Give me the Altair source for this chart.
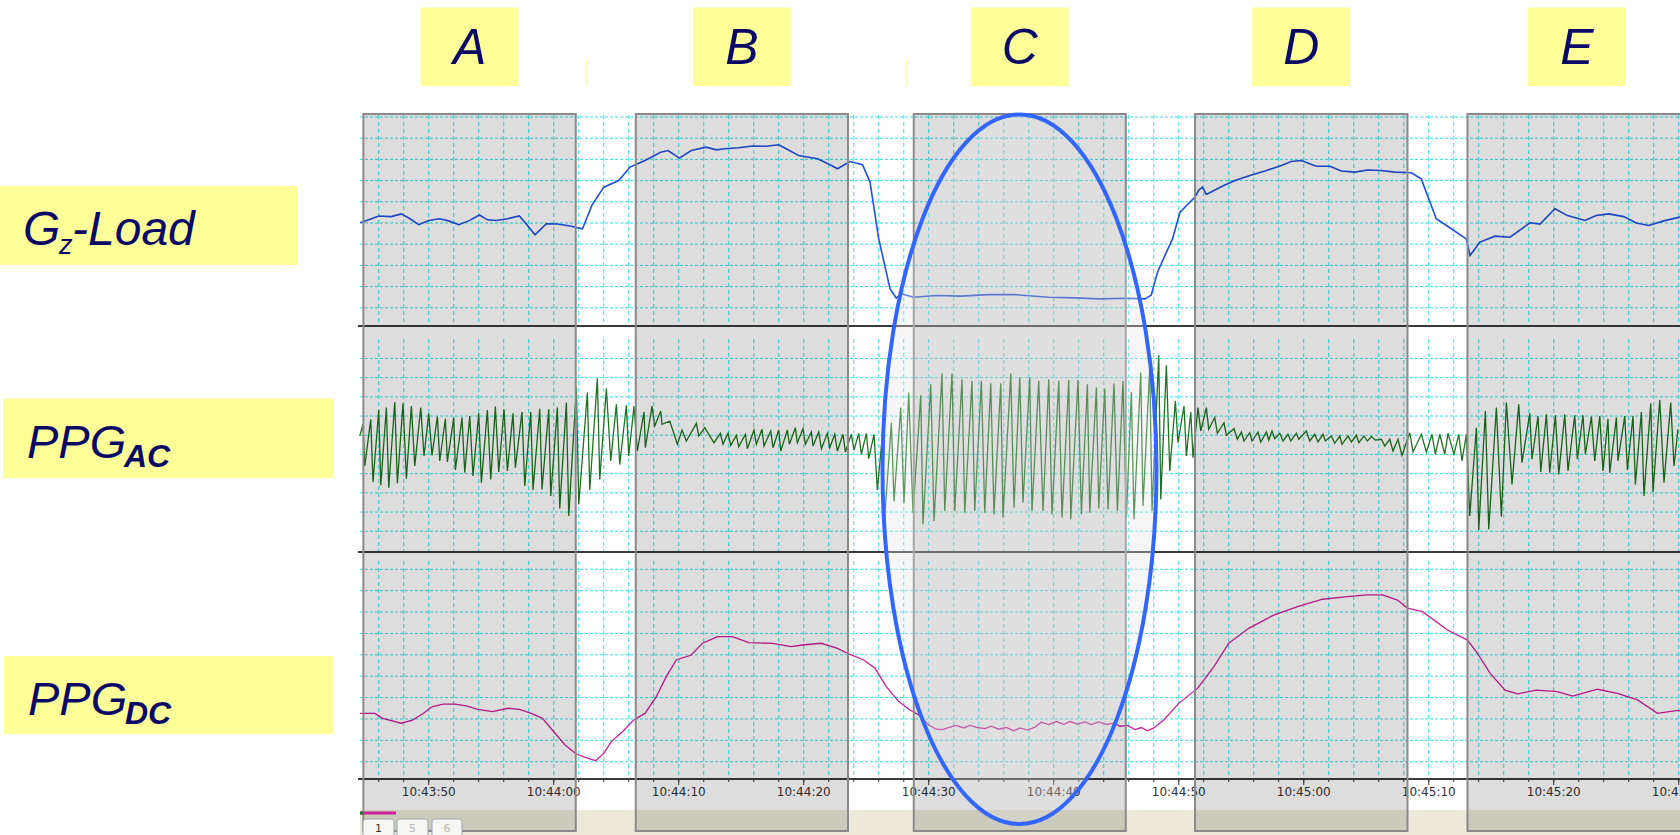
import altair as alt
import pandas as pd

# ---------------- data (time = seconds relative to 10:43:50) ----------------
box_names = ["A", "B", "C", "D", "E"]
box_start = [-5.23, 16.56, 38.8, 61.3, 83.1]
box_end = [11.76, 33.54, 55.76, 78.3, 100.6]

gz_t = [-5.5, -4.8, -4.0, -3.0, -2.2, -1.5, -0.8, 0.0, 0.85, 1.6, 2.4, 3.2, 4.05, 4.7, 5.4, 6.3,
        7.25, 7.8, 8.5, 9.4, 10.3, 11.2, 12.3, 13.05, 14.0, 15.2, 16.1, 17.3, 18.55, 19.15, 20.05,
        21.0, 22.2, 23.0, 23.7, 24.8, 25.9, 27.0, 28.0, 28.6, 29.6, 30.4, 31.1, 32.1, 32.7, 33.7,
        34.7, 35.3, 36.0, 36.9, 37.4, 37.8, 38.8, 40.6, 42.6, 44.7, 46.9, 49.6, 51.7, 53.7, 55.7,
        57.3, 57.8, 58.3, 58.9, 59.5, 60.1, 61.3, 61.6, 61.9, 62.2, 62.7, 63.6, 64.5, 65.7, 66.9,
        68.2, 69.0, 69.8, 71.0, 72.1, 73.0, 74.1, 75.1, 76.2, 77.3, 78.6, 79.4, 80.6, 81.8, 83.0,
        83.3, 84.1, 85.3, 86.5, 88.1, 88.9, 90.1, 91.1, 92.5, 93.4, 94.4, 95.6, 96.6, 97.6, 98.8,
        100.1]
gz_v = [5.01, 5.15, 5.33, 5.30, 5.43, 5.20, 4.92, 5.12, 5.20, 5.10, 4.92, 5.10, 5.38, 5.15, 5.12,
        5.20, 5.33, 4.95, 4.44, 4.96, 4.95, 4.87, 4.73, 5.83, 6.69, 7.00, 7.64, 7.95, 8.34, 8.42,
        8.06, 8.42, 8.58, 8.45, 8.50, 8.55, 8.63, 8.62, 8.69, 8.50, 8.18, 8.10, 8.03, 7.75, 7.56,
        7.90, 7.75, 6.93, 4.25, 1.90, 1.46, 1.66, 1.50, 1.58, 1.55, 1.62, 1.62, 1.50, 1.47, 1.42,
        1.45, 1.42, 1.60, 2.68, 3.47, 4.25, 5.51, 6.22, 6.55, 6.69, 6.35, 6.50, 6.77, 7.00, 7.24,
        7.45, 7.71, 7.90, 7.95, 7.68, 7.68, 7.45, 7.40, 7.50, 7.48, 7.40, 7.37, 7.08, 5.20, 4.73,
        4.25, 3.47, 4.10, 4.38, 4.33, 5.01, 4.95, 5.67, 5.35, 5.12, 5.35, 5.43, 5.30, 5.00, 4.88,
        5.10, 5.28]

# PPG AC: alternating peak / trough readings [time, value]
ac_seg1 = [[-5.52, 2.6], [-5.26, 8.7], [-5.12, -13.0], [-4.64, 11.3], [-4.46, -21.4], [-4.00, 16.1],
           [-3.84, -23.1], [-3.39, 17.4], [-3.20, -24.3], [-2.72, 20.3], [-2.51, -22.0], [-2.06, 19.6],
           [-1.79, -19.6], [-1.39, 18.2], [-1.12, -13.0], [-0.64, 17.4], [-0.38, -7.8], [0.00, 14.4],
           [0.26, -7.5], [0.69, 12.7], [0.88, -10.4], [1.33, 11.6], [1.49, -10.9], [2.00, 12.2],
           [2.13, -15.1], [2.66, 12.2], [2.88, -16.5], [3.28, 13.0], [3.54, -18.2], [4.00, 14.4],
           [4.21, -21.7], [4.69, 16.1], [4.96, -20.0], [5.33, 17.9], [5.60, -16.1], [6.02, 16.5],
           [6.29, -15.6], [6.74, 14.4], [6.93, -13.9], [7.46, 15.1], [7.68, -23.4], [8.16, 15.1],
           [8.34, -25.5], [8.88, 16.8], [9.06, -25.2], [9.60, 16.5], [9.76, -28.6], [10.29, 17.4],
           [10.48, -35.2], [11.01, 20.0], [11.20, -39.1], [11.81, 27.8], [12.00, -33.0], [12.69, 25.2],
           [12.88, -25.5], [13.49, 32.6], [13.68, -20.0], [14.21, 27.3], [14.56, -10.4], [15.01, 19.1],
           [15.28, -12.2], [15.81, 18.6], [16.00, -7.8], [16.42, 18.2], [16.69, -5.2], [17.22, 15.1],
           [17.33, -3.5], [17.86, 18.2], [18.08, 7.8], [18.56, 15.6], [18.66, 8.7], [19.28, 10.4],
           [19.89, -1.7], [20.26, 5.7], [20.61, 0.0], [21.41, 9.2], [21.60, 2.6], [22.08, 6.9],
           [22.82, -0.9], [23.33, 4.0], [23.54, -1.7], [23.94, 4.0], [24.16, -2.3], [24.61, 3.0],
           [24.80, -3.0], [25.33, 3.5], [25.49, -4.0], [26.02, 5.7], [26.21, -1.7], [26.66, 6.1],
           [26.82, -2.6], [27.36, 5.2], [27.54, -3.5], [28.00, 5.7], [28.16, -5.2], [28.69, 5.7],
           [28.85, -1.7], [29.33, 6.9], [29.49, -0.9]]
ac_seg2 = [[29.94, 6.4], [30.13, -1.7], [30.61, 4.7], [30.74, -2.6], [31.20, 4.7], [31.41, -4.0],
           [31.89, 4.0], [32.08, -3.5], [32.48, 3.5], [32.69, -5.2], [33.14, 3.5], [33.33, -5.7],
           [33.81, 3.5], [34.02, -4.7], [34.40, 4.0], [34.61, -6.9], [35.01, 4.0], [35.20, -9.2],
           [35.62, 3.5], [35.89, -25.5], [36.26, 0.9], [36.42, -45.1], [37.01, 9.5], [37.22, -31.3],
           [37.76, 17.4], [38.02, -32.1], [38.40, 25.2], [38.74, -37.3], [39.36, 23.8], [39.54, -43.4],
           [40.16, 29.5], [40.42, -41.7], [41.06, 35.2], [41.28, -36.5], [41.86, 35.2], [42.08, -36.5],
           [42.66, 32.1], [42.88, -37.3], [43.46, 31.3], [43.68, -36.5], [44.21, 31.3], [44.48, -37.3],
           [44.96, 30.0], [45.22, -38.2], [45.76, 30.0], [45.94, -39.9], [46.56, 35.2], [46.82, -34.7],
           [47.28, 33.0], [47.54, -32.1], [48.08, 33.0], [48.26, -36.5], [48.80, 31.3], [49.14, -36.5],
           [49.60, 32.1], [49.86, -38.2], [50.40, 31.3], [50.66, -39.9], [51.20, 31.8], [51.36, -40.8],
           [51.94, 31.8], [52.21, -38.2], [52.69, 29.5], [52.88, -37.3], [53.41, 27.8], [53.60, -35.2],
           [54.08, 27.3], [54.34, -35.6], [54.82, 30.0], [55.09, -36.5], [55.54, 31.3], [55.81, -39.9],
           [56.21, 25.5], [56.42, -40.8], [56.96, 35.6], [57.14, -33.9], [57.68, 38.2], [57.86, -36.5],
           [58.40, 44.6], [58.56, -30.4], [59.01, 39.4], [59.28, -15.6], [59.73, 20.8], [59.94, -0.9],
           [60.42, 18.2], [60.61, -7.8], [60.96, 15.1], [61.14, -8.7], [61.54, 17.4], [61.76, 5.2],
           [62.21, 17.4], [62.40, 6.1], [62.88, 12.2], [63.09, 4.0], [63.62, 9.5], [63.81, 3.0],
           [64.42, 6.4], [64.69, 0.9]]
ac_seg3 = [[65.01, 4.7], [65.22, 0.0], [65.68, 4.3], [65.86, 0.0], [66.34, 4.7], [66.56, -0.5],
           [67.01, 4.7], [67.20, 0.5], [67.46, 5.2], [67.68, 1.2], [68.08, 4.0], [68.34, 0.0],
           [68.74, 3.5], [68.96, 0.0], [69.41, 4.0], [69.60, 0.9], [70.21, 5.2], [70.48, 0.0],
           [70.88, 3.5], [71.14, -0.5], [71.54, 3.5], [71.73, 0.0], [72.21, 2.6], [72.48, -1.2],
           [72.88, 2.6], [73.06, -1.7], [73.54, 2.6], [73.81, -0.5], [74.21, 3.0], [74.40, -0.9],
           [74.82, 2.6], [75.09, 0.0], [75.41, 2.3], [75.73, 0.5], [76.21, 0.9], [76.48, -2.6],
           [76.88, 0.9], [77.14, -5.2], [77.54, 0.9], [77.86, -7.5], [78.48, 4.3], [78.74, -5.7],
           [79.41, 3.5], [79.81, -5.7], [80.26, 3.5], [80.53, -6.9], [80.88, 3.5], [81.28, -6.9],
           [81.54, 4.0], [82.02, -6.9], [82.40, 3.5], [82.66, -10.4], [83.01, 3.5], [83.28, -39.1],
           [83.81, 6.9], [84.00, -46.4], [84.53, 15.6], [84.80, -46.0], [85.41, 17.4], [85.81, -39.4],
           [86.21, 20.0], [86.66, -22.6], [87.20, 19.1], [87.46, -11.3], [88.08, 14.4], [88.26, -9.5],
           [88.74, 13.0], [88.96, -16.1], [89.41, 13.9], [89.68, -16.5], [90.13, 13.4], [90.40, -17.4],
           [90.88, 13.9], [91.14, -15.6], [91.68, 13.4], [91.89, -9.5], [92.34, 13.4], [92.53, -6.9],
           [93.01, 12.7], [93.28, -10.4], [93.68, 13.0], [93.94, -15.6], [94.34, 11.6], [94.48, -16.5],
           [95.01, 12.2], [95.14, -10.4], [95.68, 13.0], [95.89, -15.1], [96.34, 13.0], [96.53, -22.6],
           [97.01, 15.1], [97.22, -28.6], [97.76, 19.6], [97.94, -26.6], [98.48, 21.4], [98.82, -21.7],
           [99.36, 20.0], [99.62, -13.0], [99.94, 6.1]]

dc_t = [-5.5, -4.3, -3.7, -2.2, -1.3, -0.5, 0.25, 1.15, 2.1, 3.0, 3.9, 5.1, 6.35, 7.25, 8.2, 9.1,
        10.0, 10.9, 11.8, 12.75, 13.35, 14.0, 14.6, 15.5, 16.4, 17.3, 18.2, 19.0, 19.8, 21.0, 21.9,
        23.1, 24.3, 25.6, 27.5, 29.0, 29.9, 31.4, 32.7, 33.6, 34.8, 35.7, 36.6, 37.6, 38.5, 39.2,
        40.0, 40.6, 41.1, 41.7, 42.2, 42.8, 43.3, 43.9, 44.5, 45.0, 45.6, 46.2, 46.8, 47.3, 47.9,
        48.5, 49.0, 49.6, 50.2, 50.8, 51.3, 51.9, 52.5, 53.0, 53.6, 54.2, 54.8, 55.3, 55.9, 56.5,
        57.0, 57.5, 58.0, 58.8, 60.0, 61.5, 62.8, 64.0, 65.6, 67.6, 69.5, 71.5, 73.5, 75.1, 76.3,
        77.5, 78.3, 79.5, 81.5, 83.1, 83.9, 84.9, 86.1, 87.1, 88.6, 90.3, 91.5, 93.5, 95.1, 96.7,
        98.3, 99.8, 100.1]
dc_v = [3.26, 3.26, 3.03, 2.80, 2.95, 3.23, 3.57, 3.69, 3.69, 3.61, 3.45, 3.34, 3.50, 3.45, 3.26,
        3.03, 2.40, 1.78, 1.36, 1.16, 1.05, 1.39, 1.94, 2.40, 2.95, 3.26, 4.04, 4.98, 5.76, 5.99,
        6.54, 6.85, 6.85, 6.57, 6.54, 6.38, 6.46, 6.54, 6.30, 6.04, 5.76, 5.37, 4.51, 3.81, 3.42,
        3.19, 2.72, 2.52, 2.50, 2.62, 2.70, 2.58, 2.70, 2.60, 2.55, 2.66, 2.52, 2.60, 2.45, 2.58,
        2.48, 2.62, 2.85, 2.74, 2.88, 2.75, 2.88, 2.76, 2.86, 2.74, 2.86, 2.75, 2.80, 2.66, 2.70,
        2.50, 2.60, 2.45, 2.58, 2.95, 3.73, 4.43, 5.44, 6.54, 7.24, 7.86, 8.25, 8.60, 8.72, 8.80,
        8.80, 8.56, 8.18, 8.02, 7.16, 6.69, 6.07, 5.14, 4.35, 4.17, 4.35, 4.28, 4.07, 4.39, 4.20,
        3.89, 3.26, 3.39, 3.39]

tick_major = [0, 10, 20, 30, 40, 50, 60, 70, 80, 90, 100]
tick_minor = [-4, -2, 0, 2, 4, 6, 8, 10, 12, 14, 16, 18, 20, 22, 24, 26, 28, 30, 32, 34, 36, 38,
              40, 42, 44, 46, 48, 50, 52, 54, 56, 58, 60, 62, 64, 66, 68, 70, 72, 74, 76, 78, 80,
              82, 84, 86, 88, 90, 92, 94, 96, 98, 100]
gz_grid = [1, 2, 3, 4, 5, 6, 7, 8, 9, 10]
ac_grid = [-47, -37, -27, -17, -7, 3, 13, 23, 33, 43]
dc_grid = [1, 2, 3, 4, 5, 6, 7, 8, 9, 10]

# ---------------- helpers ----------------
XSCALE = alt.Scale(domain=[-5.5, 100.1], range=[360, 1680], nice=False, zero=False)
GZ_R, AC_R, DC_R = [329, 117], [550.44, 331.56], [783.1, 569.3]
GZ_D, AC_D, DC_D = [0, 10], [-57, 57], [0, 10]
CYAN = "#33e3e3"
NAVY = "#0a0a66"
YEL = "#ffff99"
ONE = pd.DataFrame({"k": [0]})


def tx(field="t"):
    return alt.X(f"{field}:Q", scale=XSCALE, axis=None)


def ty(field, dom, rng):
    return alt.Y(f"{field}:Q", scale=alt.Scale(domain=dom, range=rng, nice=False, zero=False), axis=None)


def prect(x1, x2, y1, y2, **kw):
    return alt.Chart(ONE).mark_rect(**kw).encode(
        x=alt.value(x1), x2=alt.value(x2), y=alt.value(y1), y2=alt.value(y2))


def prule(x1, x2, y1, y2, **kw):
    return alt.Chart(ONE).mark_rule(**kw).encode(
        x=alt.value(x1), x2=alt.value(x2), y=alt.value(y1), y2=alt.value(y2))


def ptext(x, y, text, **kw):
    return alt.Chart(ONE).mark_text(text=text, baseline="alphabetic", align="left", **kw).encode(
        x=alt.value(x), y=alt.value(y))


layers = []

# status bar
layers.append(prect(360, 1680, 810, 835, fill="#ece9d8"))

# horizontal grid
for grid, dom, rng in [(gz_grid, GZ_D, GZ_R), (ac_grid, AC_D, AC_R), (dc_grid, DC_D, DC_R)]:
    layers.append(alt.Chart(pd.DataFrame({"g": grid})).mark_rule(
        color=CYAN, strokeDash=[3, 2], strokeWidth=1).encode(
        y=ty("g", dom, rng), x=alt.value(360), x2=alt.value(1680)))

# vertical grid
minor_df = pd.DataFrame({"t": tick_minor})
for top, bot in [(115, 324), (339, 551), (561, 778)]:
    layers.append(alt.Chart(minor_df).mark_rule(
        color=CYAN, strokeDash=[4, 3], strokeWidth=1).encode(
        x=tx(), y=alt.value(top), y2=alt.value(bot)))

# signals
gz_df = pd.DataFrame({"t": gz_t, "v": gz_v})
ac_df = pd.DataFrame(ac_seg1 + ac_seg2 + ac_seg3, columns=["t", "v"])
dc_df = pd.DataFrame({"t": dc_t, "v": dc_v})
layers.append(alt.Chart(gz_df).mark_line(color="#2050e0", strokeWidth=1.6).encode(
    x=tx(), y=ty("v", GZ_D, GZ_R), order="t:Q"))
layers.append(alt.Chart(ac_df).mark_line(color="#1f721f", strokeWidth=1.3).encode(
    x=tx(), y=ty("v", AC_D, AC_R), order="t:Q"))
layers.append(alt.Chart(dc_df).mark_line(color="#cc1f99", strokeWidth=1.3).encode(
    x=tx(), y=ty("v", DC_D, DC_R), order="t:Q"))

# panel separators / axis line
for yy in [326, 552, 779]:
    layers.append(prule(358, 1680, yy, yy, color="#3a3a3a", strokeWidth=2))

# time axis ticks and labels
layers.append(alt.Chart(minor_df).mark_rule(color="#333333", strokeWidth=1).encode(
    x=tx(), y=alt.value(779), y2=alt.value(782)))
major_df = pd.DataFrame({"t": tick_major})
layers.append(alt.Chart(major_df).mark_rule(color="#333333", strokeWidth=1).encode(
    x=tx(), y=alt.value(779), y2=alt.value(785)))
layers.append(alt.Chart(major_df).transform_calculate(
    lab="timeFormat(datetime(2000, 0, 1, 10, 43, 50 + datum.t), '%H:%M:%S')"
).mark_text(font="DejaVu Sans", fontSize=12, color="#333333", baseline="middle").encode(
    x=tx(), y=alt.value(792), text="lab:N"))

# gray phase boxes
box_df = pd.DataFrame({"name": box_names, "s": box_start, "e": box_end})
layers.append(alt.Chart(box_df).mark_rect(fill="black", fillOpacity=0.135).encode(
    x=tx("s"), x2="e:Q", y=alt.value(114), y2=alt.value(831)))
layers.append(alt.Chart(box_df).mark_rect(fillOpacity=0, stroke="#8a8a8a", strokeWidth=2).encode(
    x=tx("s"), x2="e:Q", y=alt.value(114), y2=alt.value(831)))

# top phase labels
lab_base = alt.Chart(box_df).transform_calculate(
    c="(datum.s + datum.e) / 2", l="(datum.s + datum.e) / 2 - 3.92", r="(datum.s + datum.e) / 2 + 3.92")
layers.append(lab_base.mark_rect(fill=YEL).encode(
    x=tx("l"), x2="r:Q", y=alt.value(7.5), y2=alt.value(86)))
layers.append(lab_base.mark_text(font="Liberation Sans", fontStyle="italic", fontSize=50,
                                 color=NAVY, baseline="alphabetic").encode(
    x=tx("c"), y=alt.value(64), text="name:N"))

# small marks near top
layers.append(prule(587, 587, 59, 84, color="#ffffb8", strokeWidth=2))
layers.append(prule(907, 907, 59, 86, color="#ffffb8", strokeWidth=2))

# left signal labels
layers.append(prect(0, 298, 186, 265, fill=YEL))
layers.append(prect(3, 334, 398.5, 478, fill=YEL))
layers.append(prect(4, 333, 656, 734, fill=YEL))
big = dict(font="Liberation Sans", fontStyle="italic", color=NAVY)
layers.append(ptext(23, 244.5, "G", fontSize=48, **big))
layers.append(ptext(59, 253.6, "z", fontSize=27, **big))
layers.append(ptext(72, 244.5, "-Load", fontSize=48, **big))
layers.append(ptext(27, 457.5, "PPG", fontSize=47, **big))
layers.append(ptext(124, 466.5, "AC", fontSize=32, fontWeight="bold", **big))
layers.append(ptext(28, 714.5, "PPG", fontSize=47, **big))
layers.append(ptext(125, 723.5, "DC", fontSize=32, fontWeight="bold", **big))

# status bar tabs
layers.append(prule(360, 396, 813, 813, color="#cc1f99", strokeWidth=3))
layers.append(prule(360, 363, 813, 813, color="#1f721f", strokeWidth=3))
for x1, x2, lab, col in [(363, 394, "1", "#333333"), (397, 428, "5", "#b8b8b8"), (432, 462, "6", "#b8b8b8")]:
    layers.append(prect(x1, x2, 819, 842, fill="#f6f6f2", stroke="#9aa6b4", strokeWidth=1, cornerRadius=3))
    layers.append(alt.Chart(ONE).mark_text(text=lab, font="DejaVu Sans", fontSize=11, color=col,
                                           baseline="alphabetic").encode(
        x=alt.value((x1 + x2) / 2), y=alt.value(832)))

# highlight ellipse around phase C
ELLIPSE = ("M0,-1C0.2133,-1,0.3862,-0.5523,0.3862,0C0.3862,0.5523,0.2133,1,0,1"
           "C-0.2133,1,-0.3862,0.5523,-0.3862,0C-0.3862,-0.5523,-0.2133,-1,0,-1Z")
layers.append(alt.Chart(ONE).mark_point(
    shape=ELLIPSE, size=503248, filled=True, fill="#e5e5e5", fillOpacity=0.33,
    stroke="#3366ff", strokeWidth=4, strokeOpacity=1, opacity=1).encode(
    x=alt.value(1019.5), y=alt.value(469.3)))

chart = alt.layer(*layers).resolve_scale(x="independent", y="independent").properties(
    width=1680, height=835, padding=0, background="white",
    autosize=alt.AutoSizeParams(type="none")
).configure_view(stroke=None)

chart.save("out.html", embed_options={"renderer": "svg", "actions": False})
